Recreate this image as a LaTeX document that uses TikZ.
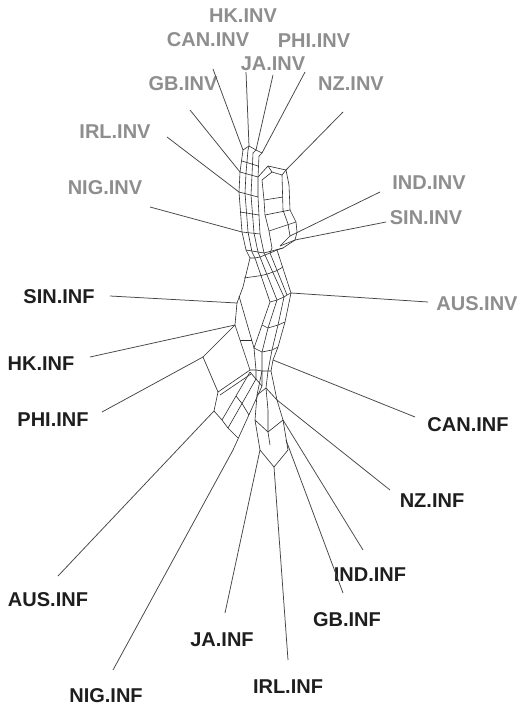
\documentclass[tikz,border=0pt]{standalone}
\usepackage{fontspec}
\setmainfont{Liberation Sans}
\definecolor{invgray}{HTML}{8E8E8E}
\definecolor{infblack}{HTML}{1E1E1E}
\definecolor{leafgray}{HTML}{454545}
\definecolor{netgray}{HTML}{2E2E2E}
\begin{document}
\begin{tikzpicture}[x=1pt,y=-1pt,
  lab/.style={font=\fontsize{20}{20}\selectfont\bfseries, inner sep=0pt},
  inv/.style={lab, text=invgray},
  inf/.style={lab, text=infblack},
  leaf/.style={draw=leafgray, line width=0.75pt},
  net/.style={draw=netgray, line width=0.6pt, line join=round}]
\useasboundingbox (0,0) rectangle (530,709);
\fill[white] (0,0) rectangle (530,709);

% ---------- labels ----------
\node[inv] (hkinv)  at (243,16)  {HK.INV};
\node[inv] (caninv) at (208,40)  {CAN.INV};
\node[inv] (phiinv) at (314,41)  {PHI.INV};
\node[inv] (jainv)  at (273,64)  {JA.INV};
\node[inv] (gbinv)  at (183,84)  {GB.INV};
\node[inv] (nzinv)  at (351,84)  {NZ.INV};
\node[inv] (irlinv) at (115,132) {IRL.INV};
\node[inv] (niginv) at (105,188) {NIG.INV};
\node[inv] (indinv) at (429,183) {IND.INV};
\node[inv] (sininv) at (426,218) {SIN.INV};
\node[inv] (ausinv) at (477,304) {AUS.INV};
\node[inf] (sininf) at (59,297)  {SIN.INF};
\node[inf] (hkinf)  at (41,364)  {HK.INF};
\node[inf] (phiinf) at (53,420)  {PHI.INF};
\node[inf] (caninf) at (468,425) {CAN.INF};
\node[inf] (nzinf)  at (432,501) {NZ.INF};
\node[inf] (indinf) at (370,575) {IND.INF};
\node[inf] (gbinf)  at (347,620) {GB.INF};
\node[inf] (jainf)  at (222,640) {JA.INF};
\node[inf] (ausinf) at (48,600)  {AUS.INF};
\node[inf] (niginf) at (106,696) {NIG.INF};
\node[inf] (irlinf) at (288,687) {IRL.INF};

% ---------- leaf end points ----------
\coordinate (hkinvA)  at (246,72);  \coordinate (hkinvB)  at (249,146);
\coordinate (caninvA) at (213,69);  \coordinate (caninvB) at (243,150);
\coordinate (jainvA)  at (273,75);  \coordinate (jainvB)  at (256,150);
\coordinate (phiinvA) at (305,72);  \coordinate (phiinvB) at (262,153);
\coordinate (gbinvA)  at (190,110); \coordinate (gbinvB)  at (240,172);
\coordinate (nzinvA)  at (343,112); \coordinate (nzinvB)  at (286,170);
\coordinate (irlinvA) at (167,137); \coordinate (irlinvB) at (239,192);
\coordinate (niginvA) at (150,207); \coordinate (niginvB) at (242,232);
\coordinate (indinvA) at (380,192); \coordinate (indinvB) at (290,236);
\coordinate (sininvA) at (386,222); \coordinate (sininvB) at (295,240);
\coordinate (ausinvA) at (428,302); \coordinate (ausinvB) at (291,293);
\coordinate (sininfA) at (110,296); \coordinate (sininfB) at (237,303);
\coordinate (hkinfA)  at (90,357);  \coordinate (hkinfB)  at (235,325);
\coordinate (phiinfA) at (102,412); \coordinate (phiinfB) at (203,357);
\coordinate (caninfA) at (415,417); \coordinate (caninfB) at (273,360);
\coordinate (nzinfA)  at (390,490); \coordinate (nzinfB)  at (277,400);
\coordinate (indinfA) at (363,550); \coordinate (indinfB) at (283,420);
\coordinate (gbinfA)  at (343,593); \coordinate (gbinfB)  at (286,440);
\coordinate (irlinfA) at (288,660); \coordinate (irlinfB) at (274,467);
\coordinate (jainfA)  at (225,613); \coordinate (jainfB)  at (260,450);
\coordinate (niginfA) at (113,670); \coordinate (niginfB) at (233,450);
\coordinate (ausinfA) at (58,576);  \coordinate (ausinfB) at (214,411);

\foreach \n in {hkinv,caninv,jainv,phiinv,gbinv,nzinv,irlinv,niginv,indinv,sininv,ausinv,
                sininf,hkinf,phiinf,caninf,nzinf,indinf,gbinf,irlinf,jainf,niginf,ausinf}
  \draw[leaf] (\n A) -- (\n B);

% ---------- network: top stem ----------
\draw[net] (243,150) -- (249,146) -- (256,150) -- (262,153);
\draw[net] (249,146) -- (248,150);
\draw[net] (256,150) -- (253,153);
\draw[net] (262,153) -- (259,156);
\draw[net] (243,150) -- (240,172) -- (239,192) -- (242,232) -- (246,250);
\draw[net] (248,150) -- (246,173) -- (245,193) -- (248,232) -- (252,252);
\draw[net] (253,153) -- (252,175) -- (251,195) -- (254,233) -- (258,252);
\draw[net] (259,156) -- (258,177) -- (258,197) -- (260,234) -- (264,253);
\draw[net] (242,161) -- (258,166);
\draw[net] (240,172) -- (258,177);
\draw[net] (239,192) -- (258,197);
\draw[net] (240,212) -- (259,215);
\draw[net] (242,232) -- (260,234);
\draw[net] (246,250) -- (264,253);

% right box
\draw[net] (258,177) -- (268,166) -- (286,170) -- (289,185) -- (290,210) -- (296,222)
           -- (297,232) -- (295,240) -- (283,248) -- (264,253);
\draw[net] (262,180) -- (272,172) -- (282,175) -- (283,210) -- (288,224) -- (290,236) -- (280,246);
\draw[net] (268,166) -- (272,172);
\draw[net] (286,170) -- (282,175);
\draw[net] (262,180) -- (264,200) -- (265,215) -- (269,231) -- (272,248);
\draw[net] (264,200) -- (283,197);
\draw[net] (265,215) -- (290,210);
\draw[net] (269,231) -- (296,222);
\draw[net] (280,246) -- (295,240);

% ---------- middle: parallel bundle ----------
\draw[net] (246,250) -- (250,258);
\draw[net] (252,252) -- (255,258);
\draw[net] (258,252) -- (260,257);
\draw[net] (264,253) -- (265,255);
\draw[net] (272,248) -- (270,253);
\draw[net] (283,248) -- (277,250);
\draw[net] (250,258) -- (255,258) -- (260,257) -- (265,255) -- (270,253) -- (277,250);
\draw[net] (250,258) -- (243,287) -- (237,303);
\draw[net] (255,258) -- (270,302);
\draw[net] (260,257) -- (277,300);
\draw[net] (265,255) -- (284,297);
\draw[net] (270,253) -- (287,295);
\draw[net] (277,250) -- (291,293);
\draw[net] (244,278) -- (261,275.6) -- (266.8,274.2) -- (272.6,272.2) -- (276.8,270.6) -- (282.6,267.2);
\draw[net] (270,302) -- (277,300) -- (284,297) -- (287,295) -- (291,293);

% lower middle
\draw[net] (237,303) -- (235,325) -- (250,370);
\draw[net] (239,296) -- (254,348) -- (256,370);
\draw[net] (270,302) -- (262,325) -- (254,348);
\draw[net] (277,300) -- (268,328) -- (262,352) -- (262,371);
\draw[net] (284,297) -- (278,325) -- (272,350) -- (268,371);
\draw[net] (291,293) -- (285,322) -- (278,347) -- (273,360) -- (271,371);
\draw[net] (262,325) -- (268,328) -- (278,325) -- (285,322);
\draw[net] (254,348) -- (262,352) -- (272,350) -- (278,347);
\draw[net] (240,340) -- (251.5,340);
\draw[net] (250,370) -- (256,370) -- (262,371) -- (268,371) -- (271,371);

% PHI box
\draw[net] (235,325) -- (203,357) -- (218,392) -- (250,370);
\draw[net] (220,395) -- (251,374);

% lower-left ladder
\draw[net] (218,392) -- (214,411) -- (222,420);
\draw[net] (250,372) -- (222,420);
\draw[net] (256,370) -- (256,379) -- (228,428);
\draw[net] (262,371) -- (262,386) -- (233,450);
\draw[net] (250,372) -- (256,379) -- (262,386);
\draw[net] (222,420) -- (228,428) -- (238,438);
\draw[net] (236,396) -- (242,403.5) -- (249,415);

% lower-right lattice
\draw[net] (262,371) -- (257,395) -- (255,420) -- (260,450);
\draw[net] (271,371) -- (277,400) -- (283,420) -- (288,450);
\draw[net] (268,371) -- (266,388);
\draw[net] (257,395) -- (266,388) -- (277,400);
\draw[net] (266,388) -- (268,410) -- (268,432);
\draw[net] (255,420) -- (268,432) -- (283,420);
\draw[net] (268,432) -- (270,445);
\draw[net] (260,450) -- (274,467) -- (288,450);
\end{tikzpicture}
\end{document}
